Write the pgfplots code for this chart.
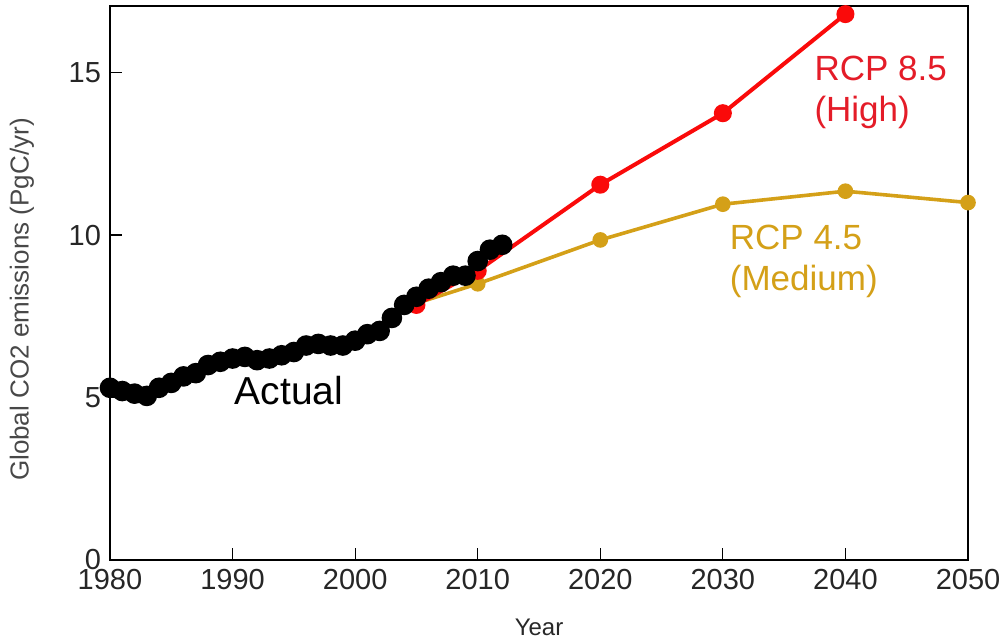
\documentclass[border=0pt]{standalone}
\usepackage{fontspec}
\setmainfont{Liberation Sans}
\usepackage{pgfplots}
\pgfplotsset{compat=1.18}

\definecolor{rcpred}{RGB}{250,10,10}
\definecolor{rcptext}{RGB}{228,28,40}
\definecolor{rcpgold}{RGB}{212,160,24}
\definecolor{labgray}{RGB}{40,40,40}

\begin{document}
\begin{tikzpicture}
  \begin{axis}[
      scale only axis,
      width=429pt, height=277pt,
      xmin=1980, xmax=2050,
      ymin=0, ymax=17.05,
      axis line style={line width=0.9pt},
      xtick={1980,1990,...,2050},
      ytick={0,5,10,15},
      tick pos=left,
      tick align=inside,
      major tick length=6pt,
      tick style={line width=0.6pt, black},
      /pgf/number format/1000 sep={},
      /pgf/number format/assume math mode=true,
      ticklabel style={font=\fontsize{14.5}{16}\selectfont, text=black!85},
      xticklabel style={yshift=-1pt},
      yticklabel style={xshift=-1pt},
      xlabel={Year},
      ylabel={Global CO2 emissions (PgC/yr)},
      xlabel style={font=\fontsize{12}{14}\selectfont, text=labgray,
                    at={(axis description cs:0.5,-0.121)}, anchor=center},
      ylabel style={font=\fontsize{13}{15}\selectfont, text=labgray!85,
                    at={(axis description cs:-0.1026,0.47)}, anchor=center},
      clip=false,
    ]

    % RCP 4.5 (Medium)
    \addplot[rcpgold, line width=1.8pt, mark=*, mark size=3pt,
             mark options={fill=rcpgold, draw=rcpgold}]
    coordinates {
      (2005,7.9) (2010,8.5) (2020,9.85) (2030,10.95) (2040,11.35) (2050,11.0)
    };

    % RCP 8.5 (High)
    \addplot[rcpred, line width=2pt, mark=*, mark size=3.5pt,
             mark options={fill=rcpred, draw=rcpred}]
    coordinates {
      (2005,7.85) (2010,8.9) (2020,11.55) (2030,13.75) (2040,16.8)
    };

    % Actual emissions
    \addplot[black, line width=1.5pt, mark=*, mark size=4.4pt,
             mark options={fill=black}]
    coordinates {
      (1980,5.3) (1981,5.2) (1982,5.12) (1983,5.05) (1984,5.3)
      (1985,5.45) (1986,5.65) (1987,5.75) (1988,6.0) (1989,6.1)
      (1990,6.2) (1991,6.25) (1992,6.15) (1993,6.2) (1994,6.3)
      (1995,6.4) (1996,6.6) (1997,6.65) (1998,6.6) (1999,6.6)
      (2000,6.75) (2001,6.95) (2002,7.05) (2003,7.45) (2004,7.85)
      (2005,8.1) (2006,8.35) (2007,8.55) (2008,8.75) (2009,8.75)
      (2010,9.2) (2011,9.55) (2012,9.7)
    };

    \node[anchor=west, font=\fontsize{19.5}{22}\selectfont] at (axis cs:1989.6,5.2) {Actual};
    \node[anchor=west, align=left, text=rcptext, font=\fontsize{17.5}{19}\selectfont]
      at (axis cs:2036.9,14.4) {RCP 8.5\\[1.5pt](High)};
    \node[anchor=west, align=left, text=rcpgold, font=\fontsize{17.5}{19}\selectfont]
      at (axis cs:2030.0,9.2) {RCP 4.5\\[1.5pt](Medium)};
  \end{axis}
  \pgfresetboundingbox
  \path ([shift={(-55pt,-40pt)}]current axis.south west)
        rectangle ([shift={(17.5pt,3pt)}]current axis.north east);
\end{tikzpicture}
\end{document}
